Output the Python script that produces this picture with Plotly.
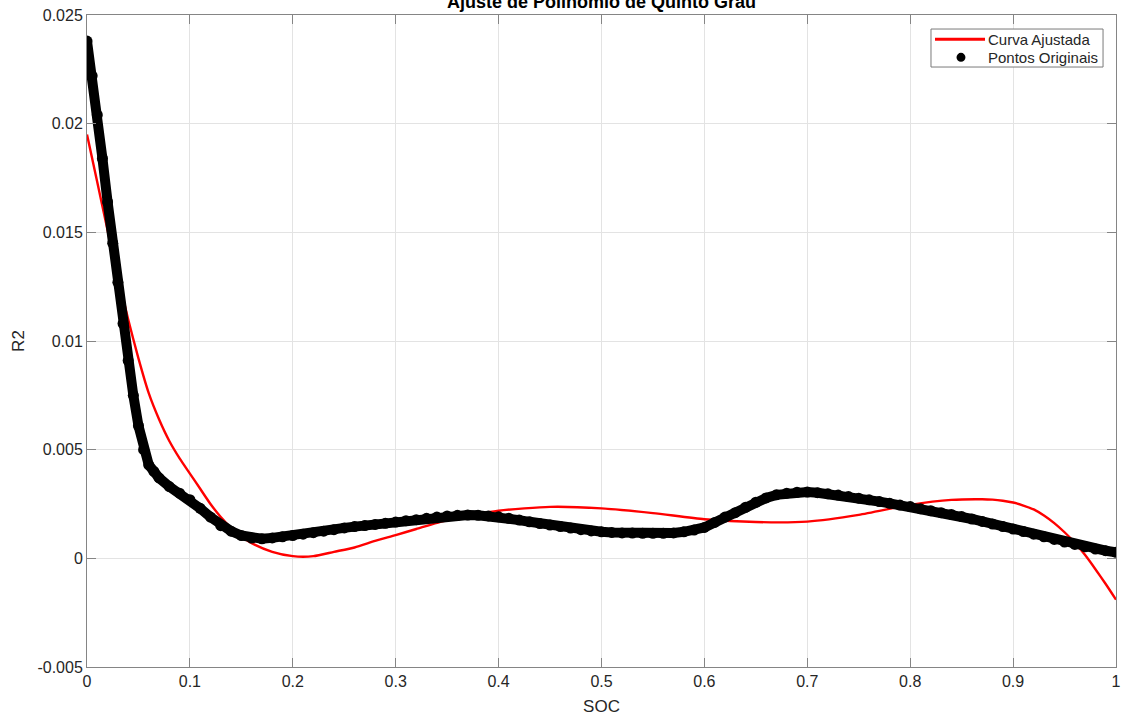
import plotly.graph_objects as go

# Original points (SOC, R2)
soc_pts = [0.000, 0.005, 0.010, 0.015, 0.020, 0.025, 0.030, 0.035, 0.040, 0.045,
           0.050, 0.055, 0.060, 0.065, 0.070, 0.080, 0.090, 0.100, 0.110, 0.120,
           0.130, 0.140, 0.150, 0.160, 0.170, 0.180, 0.190, 0.200, 0.210, 0.220,
           0.230, 0.240, 0.250, 0.260, 0.270, 0.280, 0.290, 0.300, 0.310, 0.320,
           0.330, 0.340, 0.350, 0.360, 0.370, 0.380, 0.390, 0.400, 0.410, 0.420,
           0.430, 0.440, 0.450, 0.460, 0.470, 0.480, 0.490, 0.500, 0.510, 0.520,
           0.530, 0.540, 0.550, 0.560, 0.570, 0.580, 0.590, 0.600, 0.610, 0.620,
           0.630, 0.640, 0.650, 0.660, 0.670, 0.680, 0.690, 0.700, 0.710, 0.720,
           0.730, 0.740, 0.750, 0.760, 0.770, 0.780, 0.790, 0.800, 0.810, 0.820,
           0.830, 0.840, 0.850, 0.860, 0.870, 0.880, 0.890, 0.900, 0.910, 0.920,
           0.930, 0.940, 0.950, 0.960, 0.970, 0.980, 0.990, 1.000]
r2_pts = [0.0238, 0.0222, 0.0204, 0.0184, 0.0164, 0.0145, 0.0127, 0.0108, 0.0091, 0.0075,
          0.0061, 0.0050, 0.0043, 0.0040, 0.0037, 0.0033, 0.0030, 0.0027, 0.0023, 0.0019,
          0.0015, 0.00125, 0.00105, 0.00093, 0.00090, 0.00094, 0.00099, 0.00105, 0.00111, 0.00118,
          0.00125, 0.00132, 0.00140, 0.00146, 0.00151, 0.00156, 0.00161, 0.00167, 0.00173, 0.00178,
          0.00184, 0.00190, 0.00195, 0.00198, 0.00199, 0.00198, 0.00195, 0.00191, 0.00184, 0.00176,
          0.00168, 0.00160, 0.00153, 0.00146, 0.00139, 0.00132, 0.00126, 0.00122, 0.00119, 0.00117,
          0.00116, 0.00115, 0.00115, 0.00115, 0.00117, 0.00122, 0.00130, 0.00142, 0.00165, 0.00190,
          0.00210, 0.00235, 0.00258, 0.00278, 0.00292, 0.00300, 0.00304, 0.00305, 0.00302, 0.00297,
          0.00291, 0.00284, 0.00277, 0.00269, 0.00261, 0.00253, 0.00245, 0.00238, 0.00228, 0.00219,
          0.00210, 0.00202, 0.00192, 0.00181, 0.00170, 0.00158, 0.00146, 0.00135, 0.00123, 0.00111,
          0.00099, 0.00087, 0.00075, 0.00064, 0.00053, 0.00043, 0.00035, 0.00028]

# Fitted curve (5th degree polynomial)
soc_fit = [0.00, 0.01, 0.02, 0.03, 0.04, 0.05, 0.06, 0.07, 0.08, 0.09,
           0.10, 0.11, 0.12, 0.13, 0.14, 0.15, 0.16, 0.18, 0.20, 0.22,
           0.24, 0.26, 0.28, 0.30, 0.32, 0.35, 0.40, 0.45, 0.50, 0.55,
           0.60, 0.65, 0.70, 0.75, 0.80, 0.84, 0.87, 0.88, 0.89, 0.90,
           0.91, 0.92, 0.93, 0.94, 0.95, 0.96, 0.97, 0.98, 0.99, 1.00]
r2_fit = [0.0195, 0.0173, 0.0151, 0.0130, 0.0110, 0.0092, 0.0076, 0.0064, 0.0054, 0.0046,
          0.0039, 0.0032, 0.0025, 0.0019, 0.0014, 0.0010, 0.0007, 0.0003, 0.0001, 0.0001,
          0.0003, 0.0005, 0.0008, 0.00107, 0.00135, 0.00176, 0.00219, 0.00237, 0.00230, 0.00208,
          0.00180, 0.00167, 0.00169, 0.00200, 0.00246, 0.00269, 0.00272, 0.00270, 0.00265, 0.00257,
          0.00243, 0.00225, 0.00197, 0.00162, 0.00120, 0.00072, 0.00015, -0.00050, -0.00118, -0.00190]

x_ticks = [0, 0.1, 0.2, 0.3, 0.4, 0.5, 0.6, 0.7, 0.8, 0.9, 1]
x_tick_text = ["0", "0.1", "0.2", "0.3", "0.4", "0.5", "0.6", "0.7", "0.8", "0.9", "1"]
y_ticks = [-0.005, 0, 0.005, 0.01, 0.015, 0.02, 0.025]
y_tick_text = ["-0.005", "0", "0.005", "0.01", "0.015", "0.02", "0.025"]

legend_labels = ["Curva Ajustada", "Pontos Originais"]

FONT = "Liberation Sans, Arial, sans-serif"
TXT = "#262626"
AX = "#858585"

fig = go.Figure()
fig.add_trace(go.Scatter(x=soc_fit, y=r2_fit, mode="lines", name=legend_labels[0],
                         line=dict(color="#ff0000", width=2.4, shape="spline", smoothing=0.6)))
fig.add_trace(go.Scatter(x=soc_pts, y=r2_pts, mode="lines", showlegend=False,
                         line=dict(color="black", width=10), hoverinfo="skip"))
fig.add_trace(go.Scatter(x=soc_pts, y=r2_pts, mode="markers", name=legend_labels[1],
                         marker=dict(color="black", size=11, line=dict(width=0))))

axis_common = dict(showline=True, linecolor=AX, linewidth=1, mirror="ticks",
                   ticks="inside", ticklen=9, tickcolor=AX, showgrid=True,
                   gridcolor="#e3e3e3", gridwidth=1, zeroline=False, automargin=False,
                   tickfont=dict(family=FONT, size=16, color=TXT))

# Legend box drawn in paper coordinates (MATLAB-style compact legend)
shapes = [
    dict(type="rect", xref="paper", yref="paper", x0=0.8202, x1=0.9874, y0=0.9202, y1=0.9785,
         line=dict(color="#7a7a7a", width=1), fillcolor="white", layer="above"),
    dict(type="line", xref="paper", yref="paper", x0=0.8241, x1=0.8727, y0=0.9627, y1=0.9627,
         line=dict(color="#ff0000", width=3), layer="above"),
    dict(type="circle", xref="paper", yref="paper", x0=0.8450, x1=0.8537, y0=0.9282, y1=0.9420,
         line=dict(color="black", width=0), fillcolor="black", layer="above"),
]
annotations = [
    dict(text="<b>Ajuste de Polinômio de Quinto Grau</b>", xref="paper", yref="paper",
         x=0.5, y=1, xanchor="center", yanchor="middle", yshift=13, showarrow=False,
         font=dict(family=FONT, size=18, color="black")),
    dict(text=legend_labels[0], xref="paper", yref="paper", x=0.8756, y=0.9627,
         xanchor="left", yanchor="middle", xshift=-2, showarrow=False,
         font=dict(family=FONT, size=15, color=TXT)),
    dict(text=legend_labels[1], xref="paper", yref="paper", x=0.8756, y=0.9348,
         xanchor="left", yanchor="middle", xshift=-2, showarrow=False,
         font=dict(family=FONT, size=15, color=TXT)),
]

fig.update_layout(
    width=1122, height=717,
    margin=dict(l=87, r=6, t=15, b=50),
    paper_bgcolor="white", plot_bgcolor="white",
    showlegend=False,
    xaxis=dict(range=[0, 1], tickvals=x_ticks, ticktext=x_tick_text,
               title=dict(text="SOC", font=dict(family=FONT, size=17, color=TXT), standoff=10),
               **axis_common),
    yaxis=dict(range=[-0.005, 0.025], tickvals=y_ticks, ticktext=y_tick_text,
               title=dict(text="R2", font=dict(family=FONT, size=17, color=TXT), standoff=8),
               **axis_common),
    shapes=shapes,
    annotations=annotations,
)

fig.write_html("out.html")
